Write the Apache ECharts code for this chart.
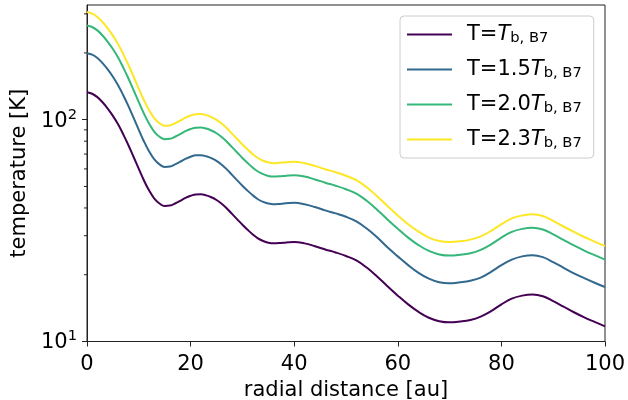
<!DOCTYPE html>
<html>
<head>
<meta charset="utf-8">
<script src="https://cdn.jsdelivr.net/npm/echarts@6/dist/echarts.min.js"></script>
<style>
html,body{margin:0;padding:0;background:#fff;}
#c{width:628px;height:400px;}
</style>
</head>
<body>
<div id="c"></div>
<script>
// radial distance [au]
const xs = [0,1,2,3,4,5,6,7,8,9,10,11,12,13,14,15,16,17,18,19,20,21,22,23,24,25,26,27,28,29,30,31,32,33,34,35,36,37,38,39,40,42,44,46,48,50,52,54,56,58,60,62,64,66,68,70,72,74,76,78,80,82,84,86,88,90,92,94,96,98,100];
// temperature [K] for T = Tb,B7
const tB7 = [133.0,130.9,126.4,119.9,112.3,104.1,95.3,85.9,76.7,67.9,60.0,53.2,47.9,44.1,41.9,40.8,41.0,41.9,43.1,44.4,45.4,46.05,46.1,45.6,44.7,43.45,41.8,39.8,37.6,35.55,33.6,31.9,30.4,29.2,28.4,27.9,27.7,27.8,27.9,28.05,28.1,27.7,26.9,26.0,25.2,24.3,23.2,21.55,19.65,17.75,16.1,14.7,13.6,12.8,12.35,12.2,12.3,12.5,12.95,13.7,14.7,15.6,16.1,16.3,16.0,15.2,14.35,13.55,12.85,12.25,11.7];
// T = 1.5 Tb,B7
const t15 = [199.5,196.4,189.6,179.9,168.5,156.2,143.0,128.9,115.1,101.9,90.0,79.8,71.9,66.2,62.9,61.2,61.5,62.9,64.7,66.6,68.1,69.1,69.2,68.4,67.1,65.2,62.7,59.7,56.4,53.3,50.4,47.9,45.6,43.8,42.6,41.9,41.6,41.7,41.9,42.1,42.2,41.6,40.4,39.0,37.8,36.5,34.8,32.3,29.5,26.6,24.2,22.1,20.4,19.2,18.5,18.3,18.5,18.8,19.4,20.6,22.1,23.4,24.2,24.5,24.0,22.8,21.5,20.3,19.3,18.4,17.6];
// T = 2.0 Tb,B7
const t20 = [266.0,261.8,252.8,239.8,224.6,208.2,190.6,171.8,153.4,135.8,120.0,106.4,95.8,88.2,83.8,81.6,82.0,83.8,86.2,88.8,90.8,92.1,92.2,91.2,89.4,86.9,83.6,79.6,75.2,71.1,67.2,63.8,60.8,58.4,56.8,55.8,55.4,55.6,55.8,56.1,56.2,55.4,53.8,52.0,50.4,48.6,46.4,43.1,39.3,35.5,32.2,29.4,27.2,25.6,24.7,24.4,24.6,25.0,25.9,27.4,29.4,31.2,32.2,32.6,32.0,30.4,28.7,27.1,25.7,24.5,23.4];
// T = 2.3 Tb,B7
const t23 = [305.9,301.1,290.7,275.8,258.3,239.4,219.2,197.6,176.4,156.2,138.0,122.4,110.2,101.4,96.4,93.8,94.3,96.4,99.1,102.1,104.4,105.9,106.0,104.9,102.8,99.9,96.1,91.5,86.5,81.8,77.3,73.4,69.9,67.2,65.3,64.2,63.7,63.9,64.2,64.5,64.6,63.7,61.9,59.8,58.0,55.9,53.4,49.6,45.2,40.8,37.0,33.8,31.3,29.4,28.4,28.1,28.3,28.8,29.8,31.5,33.8,35.9,37.0,37.5,36.8,35.0,33.0,31.2,29.6,28.2,26.9];

const prefixes = ['T=', 'T=1.5', 'T=2.0', 'T=2.3'];
const seriesNames = prefixes.map(p => p + 'T_b, B7');
const seriesValues = [tB7, t15, t20, t23];
const colors = ['#440154', '#31688e', '#35b779', '#fde725'];
const xTicks = [0, 20, 40, 60, 80, 100];
const minorTicks = [20, 30, 40, 50, 60, 70, 80, 90, 200, 300];

const FONT = 'DejaVu Sans';
const chart = echarts.init(document.getElementById('c'), null, {renderer: 'canvas'});

const lineSeries = seriesValues.map((vals, k) => ({
  name: seriesNames[k],
  type: 'line',
  data: xs.map((x, i) => [x, vals[i]]),
  showSymbol: false,
  symbol: 'none',
  smooth: 0.4,
  lineStyle: {color: colors[k], width: 2},
  itemStyle: {color: colors[k]},
  z: 3 + k
}));

const minorTickSeries = {
  type: 'custom',
  silent: true,
  clip: false,
  z: 10,
  data: minorTicks.map(v => [xTicks[0], v]),
  renderItem: function (params, api) {
    const p = api.coord([api.value(0), api.value(1)]);
    return {
      type: 'line',
      shape: {x1: p[0] - 3, y1: p[1], x2: p[0], y2: p[1]},
      style: {stroke: '#222', lineWidth: 1}
    };
  }
};

chart.setOption({
  animation: false,
  backgroundColor: '#fff',
  textStyle: {fontFamily: FONT, color: '#000'},
  grid: {
    left: 87, right: 23, top: 5, bottom: 58.5,
    outerBoundsMode: 'none',
    show: true, borderColor: '#222', borderWidth: 1, backgroundColor: 'transparent',
    containLabel: false
  },
  legend: {
    orient: 'vertical',
    left: 400, top: 16,
    data: seriesNames,
    icon: 'rect',
    itemWidth: 45, itemHeight: 2,
    itemGap: 12,
    padding: [7, 12, 7, 7],
    backgroundColor: 'rgba(255,255,255,0.8)',
    borderColor: '#cccccc', borderWidth: 1, borderRadius: 4,
    formatter: function (name) {
      const k = seriesNames.indexOf(name);
      return '{a|' + prefixes[k] + '}{i|T}{s|b, B7}';
    },
    textStyle: {
      fontFamily: FONT, color: '#000',
      rich: {
        a: {fontFamily: FONT, fontSize: 21, lineHeight: 24, color: '#000', padding: [0, 0, 0, 10], verticalAlign: 'middle'},
        i: {fontFamily: FONT, fontSize: 21, lineHeight: 24, fontStyle: 'italic', color: '#000', verticalAlign: 'middle'},
        s: {fontFamily: FONT, fontSize: 14.7, lineHeight: 14, padding: [8, 0, 0, 0], color: '#000', verticalAlign: 'middle'}
      }
    }
  },
  xAxis: {
    type: 'value',
    min: xTicks[0], max: xTicks[xTicks.length - 1], interval: 20,
    name: 'radial distance [au]',
    nameLocation: 'middle',
    nameGap: 39,
    nameTextStyle: {fontFamily: FONT, fontSize: 21, color: '#000'},
    axisLine: {show: true, onZero: false, lineStyle: {color: '#222', width: 1}},
    axisTick: {show: true, length: 5, lineStyle: {color: '#222', width: 1}},
    axisLabel: {fontFamily: FONT, fontSize: 21, color: '#000', margin: 13},
    splitLine: {show: false}
  },
  yAxis: {
    type: 'log',
    logBase: 10,
    min: 10, max: 329,
    name: 'temperature [K]',
    nameLocation: 'middle',
    nameGap: 46,
    nameTextStyle: {fontFamily: FONT, fontSize: 21, color: '#000'},
    axisLine: {show: true, lineStyle: {color: '#222', width: 1}},
    axisTick: {show: true, length: 5, lineStyle: {color: '#222', width: 1}},
    axisLabel: {
      margin: 10,
      showMaxLabel: false,
      formatter: function (v) {
        const e = Math.log10(v);
        if (Math.abs(e - Math.round(e)) > 1e-6) return '';
        return '{b|10}{sup|' + Math.round(e) + '}';
      },
      rich: {
        b: {fontFamily: FONT, fontSize: 21, lineHeight: 24, padding: [3, 0, 0, 0], color: '#000', verticalAlign: 'middle'},
        sup: {fontFamily: FONT, fontSize: 14.7, lineHeight: 14, padding: [0, 0, 10, 0], color: '#000', verticalAlign: 'middle'}
      }
    },
    splitLine: {show: false},
    minorTick: {show: false}
  },
  series: lineSeries.concat([minorTickSeries])
});
</script>
</body>
</html>
